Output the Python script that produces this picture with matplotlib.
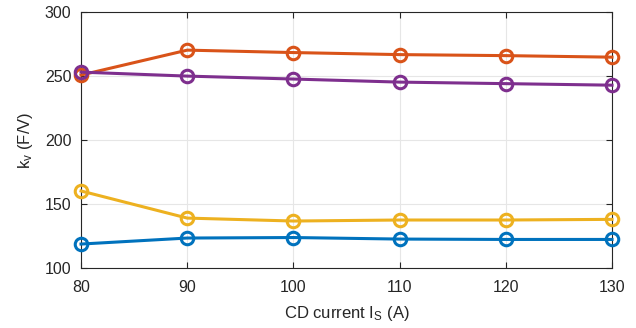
import matplotlib
matplotlib.use('Agg')
from matplotlib import pyplot as plt

plt.rcParams['font.family'] = ['Liberation Sans', 'DejaVu Sans']
plt.rcParams['mathtext.fontset'] = 'custom'
plt.rcParams['mathtext.rm'] = 'Liberation Sans'
plt.rcParams['mathtext.it'] = 'Liberation Sans'

# data
current = [80, 90, 100, 110, 120, 130]
kv_blue = [118.7, 123.4, 123.8, 122.6, 122.3, 122.3]
kv_orange = [250.8, 270.3, 268.4, 266.8, 266.0, 264.8]
kv_yellow = [160.2, 139.0, 136.7, 137.5, 137.5, 138.0]
kv_purple = [253.1, 250.0, 247.7, 245.3, 244.1, 242.9]

series = [
    (kv_blue, '#0072BD'),
    (kv_orange, '#D95319'),
    (kv_yellow, '#EDB120'),
    (kv_purple, '#7E2F8E'),
]

fig = plt.figure(figsize=(6.36, 3.28), dpi=100)
ax = fig.add_axes([0.1274, 0.183, 0.8349, 0.780])

for vals, col in series:
    ax.plot(current, vals, color=col, lw=2.2, marker='o', ms=9,
            mfc='none', mew=2.2, clip_on=False, zorder=3)

ax.set_xlim(80, 130)
ax.set_ylim(100, 300)
ax.set_xticks(current)
ax.set_yticks([100, 150, 200, 250, 300])
ax.grid(True, color='#e6e6e6', lw=0.8)
ax.set_axisbelow(True)
ax.tick_params(direction='in', length=4, labelsize=11.5, colors='#262626',
               top=True, right=True)
ax.tick_params(axis='x', pad=9)
ax.tick_params(axis='y', pad=7)
for s in ax.spines.values():
    s.set_color('#262626')
    s.set_linewidth(0.8)

ax.set_xlabel(r'CD current I$_\mathregular{S}$ (A)', fontsize=12, color='#262626', labelpad=6)
ax.set_ylabel(r'k$_\mathregular{v}$ (F/V)', fontsize=12, color='#262626', labelpad=7)

fig.savefig('out.png', dpi=100)
